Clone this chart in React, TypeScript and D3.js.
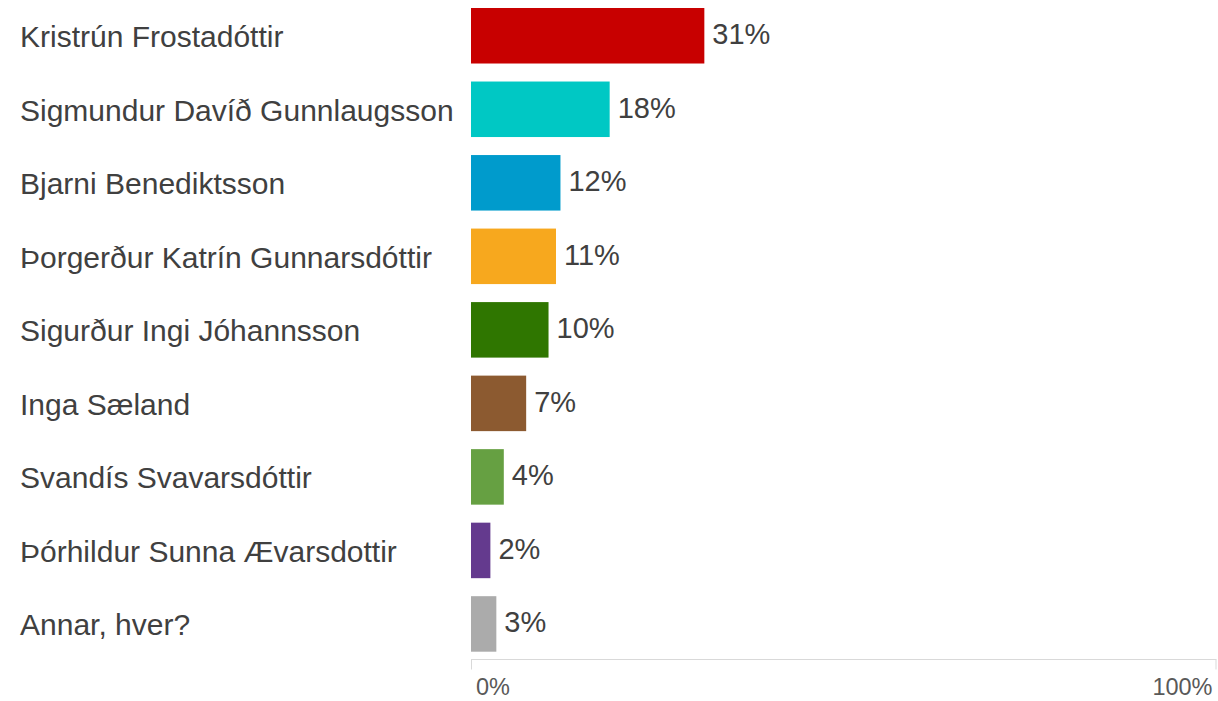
import React from "react";
import * as d3 from "d3";

const categories = [
  "Kristrún Frostadóttir",
  "Sigmundur Davíð Gunnlaugsson",
  "Bjarni Benediktsson",
  "Þorgerður Katrín Gunnarsdóttir",
  "Sigurður Ingi Jóhannsson",
  "Inga Sæland",
  "Svandís Svavarsdóttir",
  "Þórhildur Sunna Ævarsdottir",
  "Annar, hver?",
];
const values = [31.3, 18.6, 12.0, 11.4, 10.4, 7.4, 4.4, 2.6, 3.4];
const valueLabels = ["31%", "18%", "12%", "11%", "10%", "7%", "4%", "2%", "3%"];
const colors = [
  "#C80000",
  "#00C8C4",
  "#009BCC",
  "#F7A81E",
  "#2F7600",
  "#8C5A30",
  "#66A042",
  "#643A8E",
  "#ABABAB",
];
const axisTicks = [0, 100];
const axisTickLabels = ["0%", "100%"];

const W = 1218;
const H = 701;
const FONT = "'Liberation Sans', Arial, Helvetica, sans-serif";

export default function App() {
  const x = d3.scaleLinear().domain([0, 100]).range([471, 1216.5]);
  const y = d3
    .scaleBand<string>()
    .domain(categories)
    .range([8, 651.7])
    .paddingInner(0.245)
    .paddingOuter(0);
  const bw = y.bandwidth();
  const axisY = 659.5;

  return (
    <svg
      width={W}
      height={H}
      style={{ position: "absolute", left: 0, top: 0, display: "block", background: "#fff" }}
      fontFamily={FONT}
    >
      {categories.map((c, i) => {
        const y0 = y(c)!;
        const cy = y0 + bw / 2;
        return (
          <g key={c}>
            <text x={20} y={cy + 11.3} fontSize={30} fill="#404040">
              {c}
            </text>
            <rect
              x={x(0)}
              y={y0}
              width={x(values[i]) - x(0)}
              height={bw}
              fill={colors[i]}
            />
            <text x={x(values[i]) + 8} y={cy + 8.5} fontSize={29} fill="#404040">
              {valueLabels[i]}
            </text>
          </g>
        );
      })}
      <line x1={x(0)} x2={x(100)} y1={axisY} y2={axisY} stroke="#D9D9D9" strokeWidth={1} />
      {axisTicks.map((t, i) => (
        <g key={t}>
          <line
            x1={x(t) + (i === 0 ? 0.5 : -0.5)}
            x2={x(t) + (i === 0 ? 0.5 : -0.5)}
            y1={axisY}
            y2={axisY + 10}
            stroke="#D9D9D9"
            strokeWidth={1}
          />
          <text
            x={i === 0 ? x(t) + 5 : x(t) - 4}
            y={695}
            fontSize={23.5}
            fill="#595959"
            textAnchor={i === 0 ? "start" : "end"}
          >
            {axisTickLabels[i]}
          </text>
        </g>
      ))}
    </svg>
  );
}
